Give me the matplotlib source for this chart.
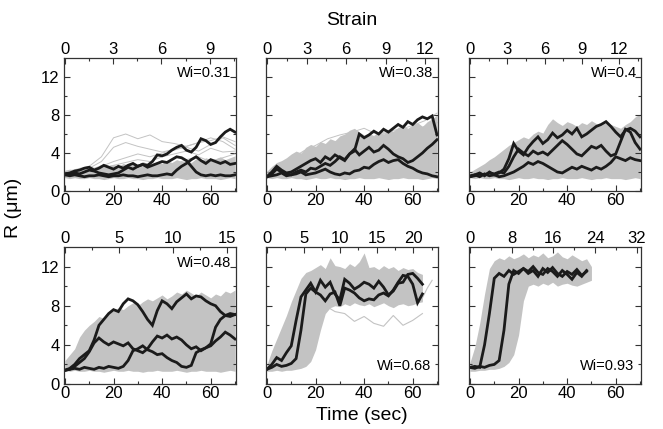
import numpy as np
import matplotlib
matplotlib.use('Agg')
import matplotlib.pyplot as plt
from matplotlib.ticker import FixedLocator

plt.rcParams['font.family'] = ['Liberation Sans', 'DejaVu Sans']

# sample times (s)
t2 = np.arange(0, 71, 2)
t5 = np.arange(0, 71, 5)

# ---- Wi = 0.31 ----
blk31 = [
    [1.8,1.9,2.1,2.2,2.4,2.5,2.2,2.4,2.7,2.5,2.3,2.6,2.4,2.7,2.9,2.6,2.8,2.7,3.1,3.8,3.7,3.9,4.3,4.6,4.8,4.3,4.1,4.6,5.5,5.3,4.9,5.1,5.7,6.2,6.5,6.2],
    [1.7,1.8,1.9,1.8,2.0,2.2,2.1,1.9,1.8,1.7,1.8,1.9,2.2,2.5,2.3,2.6,2.8,2.5,2.7,2.9,3.1,3.0,3.3,3.6,3.5,3.2,2.6,2.0,1.7,1.6,1.7,1.6,1.7,1.6,1.6,1.7],
    [1.7,1.6,1.7,1.6,1.5,1.6,1.6,1.7,1.6,1.5,1.6,1.6,1.7,1.6,1.6,1.5,1.6,1.7,1.6,1.6,1.7,1.8,1.7,2.2,2.6,2.9,3.3,3.6,3.2,2.9,3.3,3.1,2.9,3.1,2.8,2.9],
]
lo_base = [1.4,1.3,1.4,1.3,1.3,1.4,1.3,1.3,1.2,1.3,1.4,1.3,1.3,1.4,1.3,1.3,1.2,1.3,1.3,1.4,1.3,1.3,1.3,1.4,1.3,1.2,1.3,1.3,1.4,1.3,1.3,1.3,1.2,1.3,1.4,1.3]
hi31 = [2.2,2.3,2.2,2.5,2.4,2.6,2.5,2.7,2.9,2.7,2.8,2.6,2.9,2.7,3.0,2.8,3.1,2.9,2.8,3.0,2.9,3.2,3.0,3.3,3.1,3.2,3.0,3.4,3.2,3.5,3.3,3.4,3.6,3.3,3.5,3.7]
gry31 = [
    [2.0,2.3,2.6,3.6,5.6,6.0,5.5,5.9,5.2,5.0,4.7,5.1,5.3,5.7,5.2],
    [1.8,2.1,2.4,3.1,4.6,5.1,4.7,4.4,4.1,4.4,4.6,4.2,4.9,5.6,4.8],
    [1.6,1.9,2.2,2.6,3.1,3.5,3.9,3.6,4.0,4.3,4.7,5.1,5.6,5.2,4.4],
    [1.5,1.7,2.0,2.3,2.7,3.0,3.3,3.1,3.6,3.9,4.2,3.8,4.5,4.1,4.2],
    [1.4,1.6,1.7,1.9,2.1,2.4,2.2,2.7,3.1,2.8,3.3,3.6,3.1,3.5,3.9],
]

# ---- Wi = 0.38 ----
blk38 = [
    [1.5,2.0,2.6,2.2,1.9,2.0,2.3,2.6,2.9,3.2,3.4,3.0,3.6,3.3,3.8,3.5,3.2,3.9,4.2,6.0,5.6,5.9,6.3,6.0,6.5,6.2,6.6,7.0,6.7,7.3,7.0,7.5,7.8,7.6,7.9,5.9],
    [1.5,1.8,2.3,2.0,1.8,1.7,2.0,2.2,2.0,2.4,2.3,2.6,2.9,2.7,3.1,3.6,3.3,3.9,4.4,3.8,4.2,4.6,4.1,4.3,4.8,4.4,3.9,3.6,3.4,3.0,3.2,3.6,4.0,4.5,4.9,5.4],
    [1.5,1.6,1.7,1.9,1.6,1.7,1.8,2.0,1.7,1.8,1.9,2.1,2.3,2.0,1.8,1.7,1.9,1.8,2.1,2.2,2.5,2.4,2.8,3.1,3.3,3.0,3.2,3.3,2.9,2.6,2.4,2.1,1.9,1.8,1.6,1.5],
]
hi38 = [2.1,2.6,3.0,3.2,3.5,3.9,4.2,4.0,4.6,4.9,4.7,5.2,5.0,5.5,5.3,5.8,6.0,6.4,6.6,6.2,5.9,6.1,5.8,6.3,6.0,6.5,6.3,6.7,6.9,6.6,7.0,7.2,6.8,7.3,7.6,8.0]
gry38 = [
    [1.9,2.6,3.4,4.2,4.8,5.5,5.9,6.2,6.6,6.0,6.3,6.5,6.9,7.4,8.2],
    [1.7,2.2,2.9,3.5,4.4,4.9,5.3,5.0,5.6,5.8,6.2,5.9,6.4,6.8,7.2],
]

# ---- Wi = 0.4 ----
blk40 = [
    [1.5,1.7,1.9,1.6,2.0,1.7,1.9,2.3,3.4,5.0,4.2,3.8,4.6,5.2,5.7,5.0,5.4,6.1,5.6,5.9,6.4,6.0,6.6,5.7,6.0,6.4,6.8,7.0,7.3,6.8,6.2,5.7,6.4,6.6,6.3,5.7],
    [1.5,1.6,1.8,1.7,1.9,1.8,2.0,1.9,2.6,3.6,4.4,4.0,3.7,4.2,3.9,4.1,3.8,4.3,4.8,5.3,4.9,4.4,3.9,3.7,4.2,4.7,4.5,4.8,4.2,3.7,3.9,5.2,6.5,6.2,5.1,4.4],
    [1.6,1.7,1.5,1.8,1.6,1.7,1.5,1.6,1.8,2.0,2.3,2.6,3.0,2.8,3.1,2.9,2.6,2.3,2.0,1.9,2.2,2.5,2.3,2.6,2.4,2.2,2.5,2.3,2.6,3.0,3.6,3.4,3.2,3.5,3.3,3.2],
]
hi40 = [2.0,2.3,2.6,2.9,3.3,3.6,4.0,4.4,4.8,5.1,5.4,5.7,5.5,6.0,6.3,6.1,7.0,7.6,7.2,6.9,7.3,7.1,6.8,7.2,7.0,7.4,7.1,6.9,7.2,7.0,6.8,6.6,7.0,7.3,7.8,8.1]

# ---- Wi = 0.48 ----
blk48 = [
    [1.4,1.6,2.0,2.6,3.0,3.4,4.5,6.0,6.6,7.2,7.6,7.4,8.2,8.7,8.5,8.1,7.4,6.6,6.0,7.5,8.5,8.2,7.7,8.4,8.8,9.2,8.7,9.0,8.9,8.5,8.2,8.0,7.4,7.0,7.2,7.1],
    [1.4,1.5,1.8,2.2,2.6,3.3,4.2,4.7,4.3,4.0,4.3,4.1,3.9,4.2,3.6,3.4,3.2,3.6,4.3,4.9,4.7,5.0,4.6,4.8,4.5,4.0,3.6,3.8,3.4,3.7,4.1,5.8,6.6,7.0,6.9,7.1],
    [1.4,1.5,1.6,1.5,1.7,1.6,1.5,1.7,1.6,1.8,1.7,1.6,1.8,2.4,3.4,3.6,3.9,3.5,3.3,3.0,3.1,2.7,2.4,2.2,1.8,1.7,1.9,3.2,3.5,3.7,3.9,4.4,4.8,5.3,5.0,4.6],
]
hi48 = [2.4,3.0,3.6,4.8,5.5,6.0,6.4,6.9,6.7,7.2,7.5,7.8,7.6,8.0,8.3,8.0,8.4,8.7,8.5,8.8,9.1,8.7,9.0,9.4,9.2,9.6,9.3,9.0,9.4,9.1,8.8,9.2,9.0,9.5,9.3,9.6]

# ---- Wi = 0.68 (t = 0..64 s) ----
blk68 = [
    [1.5,2.0,2.7,2.4,3.2,3.9,6.5,8.9,9.6,10.3,9.4,10.6,9.9,10.4,9.2,8.6,10.7,10.3,9.7,10.0,10.4,10.2,9.8,10.5,9.9,9.1,9.5,10.3,10.4,11.2,11.3,10.8,10.2],
    [1.5,1.7,2.0,1.8,1.9,2.1,2.6,5.5,9.2,9.8,9.4,9.1,8.5,9.2,9.4,8.0,9.8,9.6,9.3,8.8,8.5,8.7,8.6,9.1,9.3,9.0,9.6,10.4,11.1,11.0,10.2,8.3,9.2],
]
lo68 = [1.3,1.3,1.4,1.3,1.4,1.4,1.5,1.6,1.8,2.3,3.5,5.5,7.2,7.8,8.0,7.9,8.2,8.0,8.3,8.1,8.0,8.2,7.9,8.1,8.3,8.0,7.8,8.1,8.2,8.0,8.1,8.3,8.4]
hi68 = [2.0,3.4,4.6,5.8,7.0,8.4,9.6,10.8,11.4,11.6,11.9,12.2,11.8,12.9,12.1,12.0,11.8,12.3,12.0,12.5,13.4,11.9,12.0,11.7,12.1,11.8,12.0,11.6,11.9,11.7,11.8,11.4,11.2]
t68_low = [24, 28, 32, 36, 40, 44, 48, 52, 56, 60, 64]
gry68_low = [8.0, 7.4, 7.2, 6.4, 6.9, 6.2, 5.9, 7.0, 6.0, 6.5, 7.2]
t68_tail = [60, 62, 64, 66, 68]
gry68_tail = [9.5, 9.0, 8.8, 9.8, 10.6]

# ---- Wi = 0.93 (t = 0..48 s) ----
blk93 = [
    [1.7,1.8,1.7,4.0,7.2,10.8,11.3,11.0,11.6,11.2,11.5,11.8,11.3,11.6,11.0,11.8,11.4,11.9,11.3,11.0,11.5,11.2,11.7,11.1,11.5],
    [1.7,1.6,1.8,1.7,1.9,2.0,2.4,5.5,10.2,11.6,11.3,11.8,11.5,12.0,11.4,11.2,11.8,11.5,11.0,11.6,11.2,10.7,11.4,11.0,11.6],
]
lo93 = [1.3,1.3,1.4,1.4,1.5,1.5,1.6,1.8,2.2,3.0,5.0,8.5,10.0,10.2,10.0,10.3,10.1,10.4,10.0,10.2,10.3,10.1,10.0,10.2,10.4,10.6]
hi93 = [2.2,3.8,6.2,9.2,11.8,12.6,12.9,12.7,13.1,12.8,13.0,13.3,12.9,13.2,13.0,13.4,12.9,13.1,13.5,13.0,12.8,13.2,12.9,12.6,12.8,12.0]

wi_labels = ['Wi=0.31', 'Wi=0.38', 'Wi=0.4', 'Wi=0.48', 'Wi=0.68', 'Wi=0.93']
strain_rate = [0.151, 0.184, 0.195, 0.225, 0.332, 0.466]
strain_ticks = [[0, 3, 6, 9], [0, 3, 6, 9, 12], [0, 3, 6, 9, 12],
                [0, 5, 10, 15], [0, 5, 10, 15, 20], [0, 8, 16, 24, 32]]
strain_minor = [1.5, 1.5, 1.5, 2.5, 2.5, 4]

GREY = '#c3c3c3'
BLACK = '#1b1b1b'
EDGE = '#333333'

fig = plt.figure(figsize=(6.63, 4.29), dpi=100)
lefts = [0.0965, 0.4012, 0.7074]
bottoms = [0.5548, 0.1049]
heights = [0.31, 0.3193]
width = 0.2594
xlim = (-0.4, 70.4)

axes = []
for i in range(6):
    r, c = divmod(i, 3)
    ax = fig.add_axes([lefts[c], bottoms[r], width, heights[r]])
    axes.append(ax)

# grey clouds
axes[0].fill_between(t2, lo_base, hi31, color=GREY, lw=0)
for g in gry31:
    axes[0].plot(t5, g, color=GREY, lw=0.7)
axes[1].fill_between(t2, lo_base, hi38, color=GREY, lw=0)
for g in gry38:
    axes[1].plot(t5, g, color=GREY, lw=0.7)
axes[2].fill_between(t2, lo_base, hi40, color=GREY, lw=0)
axes[3].fill_between(t2, lo_base, hi48, color=GREY, lw=0)
axes[4].fill_between(t2[:len(lo68)], lo68, hi68, color=GREY, lw=0)
axes[4].plot(t68_low, gry68_low, color=GREY, lw=0.8)
axes[4].plot(t68_tail, gry68_tail, color=GREY, lw=0.8)
axes[5].fill_between(t2[:len(lo93)], lo93, hi93, color=GREY, lw=0)

# black traces
for ax, blk in zip(axes, [blk31, blk38, blk40, blk48, blk68, blk93]):
    for y in blk:
        ax.plot(t2[:len(y)], y, color=BLACK, lw=2.0, solid_joinstyle='miter')

for i, ax in enumerate(axes):
    ax.set_xlim(*xlim)
    ax.set_ylim(0, 14)
    ax.xaxis.set_major_locator(FixedLocator([0, 20, 40, 60]))
    ax.xaxis.set_minor_locator(FixedLocator([10, 30, 50, 70]))
    ax.yaxis.set_major_locator(FixedLocator([0, 4, 8, 12]))
    ax.yaxis.set_minor_locator(FixedLocator([2, 6, 10]))
    ax.tick_params(which='both', direction='in', right=True, colors=EDGE,
                   labelcolor='black', labelsize=12)
    ax.tick_params(axis='x', pad=1.5)
    ax.tick_params(axis='y', pad=3)
    ax.tick_params(which='major', length=4, width=0.8)
    ax.tick_params(which='minor', length=2.5, width=0.8)
    if i % 3 != 0:
        ax.tick_params(labelleft=False)
    for s in ax.spines.values():
        s.set_color(EDGE)
        s.set_linewidth(0.9)

    top = ax.twiny()
    top.set_xlim(xlim[0] * strain_rate[i], xlim[1] * strain_rate[i])
    top.xaxis.set_major_locator(FixedLocator(strain_ticks[i]))
    m = strain_minor[i]
    top.xaxis.set_minor_locator(FixedLocator([v + m for v in strain_ticks[i]]))
    top.tick_params(which='both', direction='in', colors=EDGE,
                    labelcolor='black', labelsize=12, pad=0.5)
    top.tick_params(which='major', length=4, width=0.8)
    top.tick_params(which='minor', length=2.5, width=0.8)
    for s in top.spines.values():
        s.set_visible(False)

    if i in (4, 5):
        ax.text(0.96, 0.13, wi_labels[i], transform=ax.transAxes,
                ha='right', va='center', fontsize=10.5)
    else:
        ax.text(0.975, 0.885, wi_labels[i], transform=ax.transAxes,
                ha='right', va='center', fontsize=10.5)

fig.text(0.531, 0.952, 'Strain', ha='center', va='center', fontsize=14)
fig.text(0.545, 0.032, 'Time (sec)', ha='center', va='center', fontsize=14)
fig.text(0.02, 0.515, 'R (μm)', ha='center', va='center', rotation=90, fontsize=14)

fig.savefig('out.png', dpi=100)
